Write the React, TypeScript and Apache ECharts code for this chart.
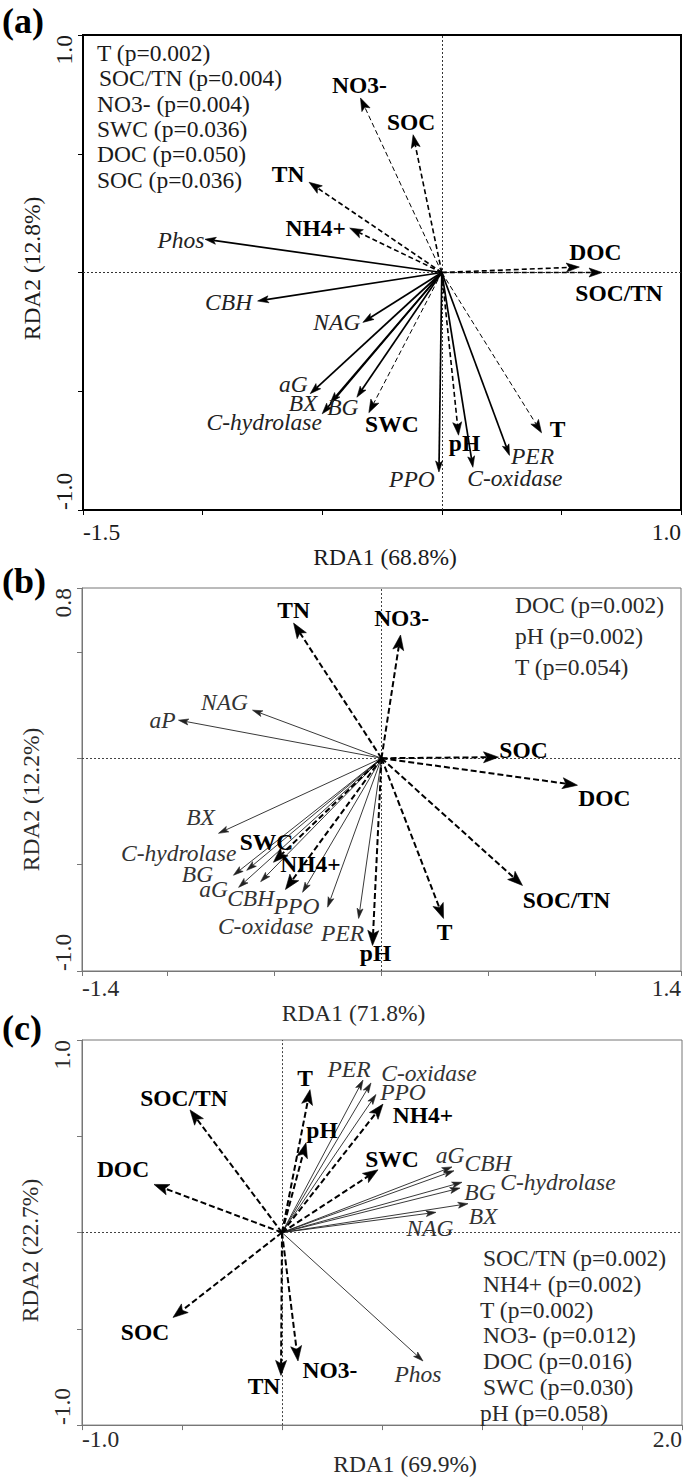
import React, { useEffect, useRef } from "react";
import * as echarts from "echarts";

const FONT = "'Liberation Serif', 'Times New Roman', serif";
const FS = 23.5;

// ---------------- Panel (a) ----------------
const aEnvNames = ["NO3-", "SOC", "TN", "NH4+", "DOC", "SOC/TN", "SWC", "pH", "T"];
const aEnvX = [-0.34, -0.12, -0.555, -0.385, 0.575, 0.67, -0.305, 0.07, 0.417];
const aEnvY = [0.735, 0.58, 0.38, 0.187, 0.023, 0.0, -0.59, -0.685, -0.675];
const aEnzNames = ["Phos", "CBH", "NAG", "aG", "BX", "C-hydrolase", "BG", "PPO", "C-oxidase", "PER"];
const aEnzX = [-0.99, -0.77, -0.33, -0.55, -0.467, -0.5, -0.355, -0.012, 0.13, 0.283];
const aEnzY = [0.14, -0.12, -0.21, -0.51, -0.55, -0.595, -0.525, -0.84, -0.82, -0.77];
const aSig = ["T (p=0.002)", "SOC/TN (p=0.004)", "NO3- (p=0.004)", "SWC (p=0.036)", "DOC (p=0.050)", "SOC (p=0.036)"];
const aXTicks = [-1.5, -1.0, -0.5, 0, 0.5, 1.0];
const aYTicks = [-1.0, -0.5, 0, 0.5, 1.0];
const aXLabels = [-1.5, 1.0];
const aYLabels = [-1.0, 1.0];

// ---------------- Panel (b) ----------------
const bEnvNames = ["TN", "NO3-", "SOC", "DOC", "SOC/TN", "T", "pH", "NH4+", "SWC"];
const bEnvX = [-0.411, 0.089, 0.547, 0.916, 0.659, 0.29, -0.042, -0.449, -0.505];
const bEnvY = [0.635, 0.579, 0.005, -0.127, -0.598, -0.753, -0.88, -0.617, -0.489];
const bEnzNames = ["NAG", "aP", "BX", "C-hydrolase", "BG", "aG", "CBH", "PPO", "C-oxidase", "PER"];
const bEnzX = [-0.603, -0.949, -0.762, -0.63, -0.692, -0.668, -0.565, -0.369, -0.252, -0.107];
const bEnzY = [0.226, 0.179, -0.353, -0.527, -0.55, -0.607, -0.58, -0.63, -0.7, -0.753];
const bSig = ["DOC (p=0.002)", "pH (p=0.002)", "T (p=0.054)"];
const bXTicks = [-1.4, -1.0, -0.5, 0, 0.5, 1.0, 1.4];
const bYTicks = [-1.0, -0.5, 0, 0.5, 0.8];
const bXLabels = [-1.4, 1.4];
const bYLabels = [-1.0, 0.8];

// ---------------- Panel (c) ----------------
const cEnvNames = ["SOC/TN", "DOC", "T", "pH", "NH4+", "SWC", "SOC", "TN", "NO3-"];
const cEnvX = [-0.46, -0.64, 0.14, 0.12, 0.505, 0.48, -0.545, -0.005, 0.08];
const cEnvY = [0.637, 0.25, 0.742, 0.466, 0.667, 0.326, -0.441, -0.742, -0.667];
const cEnzNames = ["PER", "C-oxidase", "PPO", "aG", "CBH", "C-hydrolase", "BG", "BX", "NAG", "Phos"];
const cEnzX = [0.405, 0.445, 0.47, 0.85, 0.86, 0.9, 0.89, 0.93, 0.77, 0.705];
const cEnzY = [0.792, 0.777, 0.717, 0.341, 0.321, 0.261, 0.231, 0.15, 0.105, -0.667];
const cSig = ["SOC/TN (p=0.002)", "NH4+ (p=0.002)", "T (p=0.002)", "NO3- (p=0.012)", "DOC (p=0.016)", "SWC (p=0.030)", "pH (p=0.058)"];
const cXTicks = [-1.0, -0.5, 0, 0.5, 1.0, 1.5, 2.0];
const cYTicks = [-1.0, -0.5, 0, 0.5, 1.0];
const cXLabels = [-1.0, 2.0];
const cYLabels = [-1.0, 1.0];

const axisTitles = {
  a: ["RDA1 (68.8%)", "RDA2 (12.8%)"],
  b: ["RDA1 (71.8%)", "RDA2 (12.2%)"],
  c: ["RDA1 (69.9%)", "RDA2 (22.7%)"],
};

// ---------------- layout (pixel offsets of labels from arrow tips) ----------------
const aEnvLabelOff = [[-1, -13], [-2, -13], [-21, -8], [-34, 0], [16, -15], [17, 20], [23, 11], [6, 8], [16, -4]];
const aEnzLabelOff = [[-24, 1], [-29, 1], [-26, 0], [-17, -10], [-27, 0], [-58, 8], [-14, 10], [-27, 7], [42, 11], [23, 1]];
const aEnvWidth = [1, 1.6, 1.6, 1.6, 1.6, 1.6, 1, 1.6, 1];
const bEnvLabelOff = [[0, -13], [1, -17], [25, -7], [27, 13], [44, 15], [1, 14], [3, 8], [25, -26], [-7, -20]];
const bEnzLabelOff = [[-28, -8], [-16, 0], [-18, -16], [-68, -17], [-36, -1], [-25, 2], [-10, 16], [-6, 14], [-62, 19], [-16, 15]];
const cEnvLabelOff = [[-6, -12], [-31, -15], [-5, -12], [16, -13], [40, 11], [14, -11], [-28, 15], [-17, 11], [32, 9]];
const cEnzLabelOff = [[-14, -11], [58, -10], [27, -2], [-2, -12], [34, -8], [96, 0], [20, 4], [15, 12], [-6, 16], [-5, 13]];

const grids = [
  { left: 83, top: 35, width: 598, height: 475 },
  { left: 82, top: 588, width: 599, height: 383 },
  { left: 82, top: 1040, width: 600, height: 399 },
];

type ArrowStyle = {
  color: string;
  width: number | number[];
  dash: number[] | null;
  headLen: number;
  headWidth: number;
  textColor: string;
  fontWeight: string;
  fontStyle: string;
};

function arrowSeries(idx: number, names: string[], xs: number[], ys: number[], offs: number[][], st: ArrowStyle) {
  return {
    type: "custom",
    coordinateSystem: "cartesian2d",
    xAxisIndex: idx,
    yAxisIndex: idx,
    clip: false,
    silent: true,
    z: 5,
    data: names.map((n, i) => ({ name: n, value: [xs[i], ys[i]] })),
    renderItem: (params: any, api: any) => {
      const i = params.dataIndex;
      const o = api.coord([0, 0]);
      const t = api.coord([api.value(0), api.value(1)]);
      const dx = t[0] - o[0];
      const dy = t[1] - o[1];
      const len = Math.hypot(dx, dy) || 1;
      const ux = dx / len, uy = dy / len;
      const px = -uy, py = ux;
      const L = st.headLen, W = st.headWidth / 2;
      const bx = t[0] - ux * L, by = t[1] - uy * L;
      const nx = t[0] - ux * L * 0.78, ny = t[1] - uy * L * 0.78;
      const lw = Array.isArray(st.width) ? st.width[i] : st.width;
      const off = offs[i];
      return {
        type: "group",
        children: [
          {
            type: "line",
            shape: { x1: o[0], y1: o[1], x2: nx, y2: ny },
            style: { stroke: st.color, lineWidth: lw, lineDash: st.dash || undefined, fill: null },
          },
          {
            type: "polygon",
            shape: { points: [[t[0], t[1]], [bx + px * W, by + py * W], [nx, ny], [bx - px * W, by - py * W]] },
            style: { fill: st.color, stroke: st.color, lineWidth: 0.6 },
          },
          {
            type: "text",
            x: t[0] + off[0],
            y: t[1] + off[1],
            style: {
              text: names[i],
              fill: st.textColor,
              fontSize: FS,
              fontFamily: FONT,
              fontWeight: st.fontWeight,
              fontStyle: st.fontStyle,
              align: "center",
              verticalAlign: "middle",
            },
          },
        ],
      };
    },
  };
}

function zeroLines(idx: number, xr: number[], yr: number[], color: string) {
  return {
    type: "lines",
    coordinateSystem: "cartesian2d",
    xAxisIndex: idx,
    yAxisIndex: idx,
    silent: true,
    z: 1,
    symbol: ["none", "none"],
    lineStyle: { color, width: 1, type: [2, 2], opacity: 1 },
    data: [
      { coords: [[xr[0], 0], [xr[1], 0]] },
      { coords: [[0, yr[0]], [0, yr[1]]] },
    ],
  };
}

function makeX(idx: number, ticks: number[], labels: number[], name: string, axColor: string, axWidth: number, txtColor: string, margin: number, nameGap: number, namePad: number[]) {
  return {
    type: "value",
    gridIndex: idx,
    min: ticks[0],
    max: ticks[ticks.length - 1],
    axisLine: { show: true, onZero: false, lineStyle: { color: axColor, width: axWidth } },
    axisTick: { show: true, customValues: ticks, length: 5, lineStyle: { color: axColor, width: 1 } },
    axisLabel: {
      show: true,
      customValues: labels,
      formatter: (v: number) => v.toFixed(1),
      fontSize: FS,
      fontFamily: FONT,
      color: txtColor,
      margin,
      alignMinLabel: "left",
      alignMaxLabel: "right",
      showMinLabel: true,
      showMaxLabel: true,
      hideOverlap: false,
    },
    splitLine: { show: false },
    name,
    nameLocation: "middle",
    nameGap,
    nameTextStyle: { fontSize: FS, fontFamily: FONT, color: txtColor, padding: namePad },
  };
}

function makeY(idx: number, ticks: number[], labels: number[], name: string, axColor: string, axWidth: number, txtColor: string, margin: number, nameGap: number, namePad: number[]) {
  return {
    type: "value",
    gridIndex: idx,
    min: ticks[0],
    max: ticks[ticks.length - 1],
    axisLine: { show: true, onZero: false, lineStyle: { color: axColor, width: axWidth } },
    axisTick: { show: true, customValues: ticks, length: 5, lineStyle: { color: axColor, width: 1 } },
    axisLabel: {
      show: true,
      customValues: labels,
      formatter: (v: number) => v.toFixed(1),
      rotate: 90,
      fontSize: FS,
      fontFamily: FONT,
      color: txtColor,
      margin,
      alignMinLabel: "left",
      alignMaxLabel: "right",
      showMinLabel: true,
      showMaxLabel: true,
      hideOverlap: false,
    },
    splitLine: { show: false },
    name,
    nameLocation: "middle",
    nameGap,
    nameRotate: 90,
    nameTextStyle: { fontSize: FS, fontFamily: FONT, color: txtColor, padding: namePad },
  };
}

function textEl(text: string, x: number, y: number, opts: any = {}) {
  return {
    type: "text",
    x,
    y,
    silent: true,
    z: 10,
    style: {
      text,
      fill: opts.fill || "#222",
      fontSize: opts.fontSize || FS,
      fontFamily: FONT,
      fontWeight: opts.fontWeight || "normal",
      align: "left",
      textAlign: "left",
      verticalAlign: "middle",
      textVerticalAlign: "middle",
    },
  };
}

export default function App() {
  const ref = useRef<HTMLDivElement>(null);

  useEffect(() => {
    if (!ref.current) return;
    const chart = echarts.init(ref.current, undefined, { renderer: "svg" });

    const envA: ArrowStyle = { color: "#000", width: aEnvWidth, dash: [5, 3], headLen: 13, headWidth: 9, textColor: "#000", fontWeight: "bold", fontStyle: "normal" };
    const enzA: ArrowStyle = { color: "#000", width: 1.7, dash: null, headLen: 11, headWidth: 7, textColor: "#222", fontWeight: "normal", fontStyle: "italic" };
    const envBC: ArrowStyle = { color: "#000", width: 2, dash: [6, 3], headLen: 15, headWidth: 11, textColor: "#000", fontWeight: "bold", fontStyle: "normal" };
    const enzBC: ArrowStyle = { color: "#222", width: 0.9, dash: null, headLen: 10, headWidth: 6, textColor: "#333", fontWeight: "normal", fontStyle: "italic" };

    const graphics: any[] = [];
    graphics.push(textEl("(a)", 2, 21, { fontSize: 36, fontWeight: "bold", fill: "#000" }));
    graphics.push(textEl("(b)", 2, 581, { fontSize: 36, fontWeight: "bold", fill: "#000" }));
    graphics.push(textEl("(c)", 2, 1028, { fontSize: 36, fontWeight: "bold", fill: "#000" }));
    aSig.forEach((s, i) => graphics.push(textEl(s, i === 1 ? 99 : 97, 53 + i * 25.3, { fill: "#1a1a1a" })));
    bSig.forEach((s, i) => graphics.push(textEl(s, 515, 605 + i * 31, { fill: "#2a2a2a" })));
    cSig.forEach((s, i) => graphics.push(textEl(s, i === 2 || i === 6 ? 480 : 483, 1258 + i * 25.8, { fill: "#2a2a2a" })));

    const option: any = {
      animation: false,
      backgroundColor: "#fff",
      textStyle: { fontFamily: FONT },
      grid: [
        { ...grids[0], show: true, borderColor: "#000", borderWidth: 2, backgroundColor: "transparent" },
        { ...grids[1], show: true, borderColor: "#777", borderWidth: 1, backgroundColor: "transparent" },
        { ...grids[2], show: true, borderColor: "#777", borderWidth: 1, backgroundColor: "transparent" },
      ],
      xAxis: [
        makeX(0, aXTicks, aXLabels, axisTitles.a[0], "#000", 2, "#1a1a1a", 10, 12, [0, 0, 0, 6]),
        makeX(1, bXTicks, bXLabels, axisTitles.b[0], "#777", 1, "#2a2a2a", 5, 5, [0, 56, 0, 0]),
        makeX(2, cXTicks, cXLabels, axisTitles.c[0], "#777", 1, "#2a2a2a", 2, 1, [0, 0, 0, 46]),
      ],
      yAxis: [
        makeY(0, aYTicks, aYLabels, axisTitles.a[1], "#000", 2, "#1a1a1a", 7, 7, [0, 0, 0, 8]),
        makeY(1, bYTicks, bYLabels, axisTitles.b[1], "#777", 1, "#2a2a2a", 7, 5, [0, 40, 0, 0]),
        makeY(2, cYTicks, cYLabels, axisTitles.c[1], "#777", 1, "#2a2a2a", 8, 8, [0, 36, 0, 0]),
      ],
      series: [
        zeroLines(0, [aXTicks[0], aXTicks[aXTicks.length - 1]], [aYTicks[0], aYTicks[aYTicks.length - 1]], "#333"),
        zeroLines(1, [bXTicks[0], bXTicks[bXTicks.length - 1]], [bYTicks[0], bYTicks[bYTicks.length - 1]], "#444"),
        zeroLines(2, [cXTicks[0], cXTicks[cXTicks.length - 1]], [cYTicks[0], cYTicks[cYTicks.length - 1]], "#444"),
        arrowSeries(0, aEnzNames, aEnzX, aEnzY, aEnzLabelOff, enzA),
        arrowSeries(0, aEnvNames, aEnvX, aEnvY, aEnvLabelOff, envA),
        arrowSeries(1, bEnzNames, bEnzX, bEnzY, bEnzLabelOff, enzBC),
        arrowSeries(1, bEnvNames, bEnvX, bEnvY, bEnvLabelOff, envBC),
        arrowSeries(2, cEnzNames, cEnzX, cEnzY, cEnzLabelOff, enzBC),
        arrowSeries(2, cEnvNames, cEnvX, cEnvY, cEnvLabelOff, envBC),
      ],
      graphic: graphics,
    };

    chart.setOption(option);
    return () => chart.dispose();
  }, []);

  return (
    <div
      ref={ref}
      style={{ position: "absolute", left: 0, top: 0, width: 685, height: 1477, background: "#fff" }}
    />
  );
}
